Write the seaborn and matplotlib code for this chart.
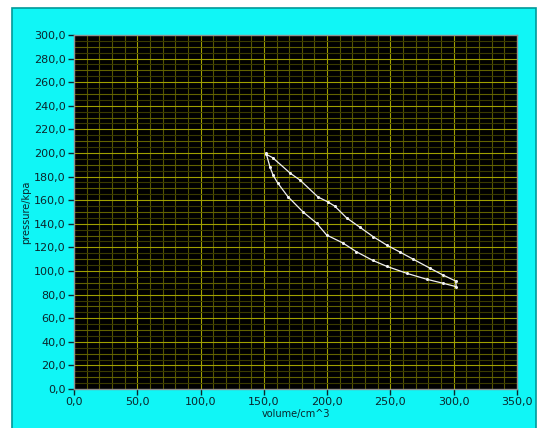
import matplotlib
matplotlib.use("Agg")
import matplotlib.pyplot as plt
import seaborn as sns
import pandas as pd
import numpy as np
from matplotlib.patches import Rectangle
from matplotlib.ticker import FuncFormatter, MultipleLocator

# loop: lower branch (expansion) then upper branch back
volume = [151.7, 154.9, 157.4, 161.0, 169.0, 181.0, 191.7, 199.6, 212.5, 223.0,
          236.0, 247.0, 263.0, 278.7, 291.6, 302.0,
          301.5, 291.5, 281.0, 268.0, 257.6, 247.0, 236.5, 226.0, 215.4, 206.0,
          200.7, 192.8, 178.6, 170.7, 157.0, 151.7]
pressure = [200.0, 188.0, 181.0, 174.5, 163.0, 150.0, 140.5, 130.5, 123.7, 116.4,
            109.0, 104.0, 98.0, 93.0, 89.6, 86.7,
            91.5, 96.6, 102.5, 110.0, 116.0, 122.0, 129.0, 137.0, 145.0, 155.0,
            158.5, 162.7, 177.0, 183.0, 196.0, 199.0]

df = pd.DataFrame({"volume": volume, "pressure": pressure})

sns.set_style("dark")
plt.rcParams["font.family"] = ["DejaVu Sans"]

fig = plt.figure(figsize=(5.38, 4.28), dpi=100)
fig.patch.set_facecolor("white")

# cyan panel behind the graph
bg = fig.add_axes([0, 0, 1, 1], zorder=-1)
bg.set_xlim(0, 538)
bg.set_ylim(0, 428)
bg.axis("off")
bg.add_patch(Rectangle((12, -2), 524, 422, facecolor="#10f6f6",
                       edgecolor="#009a9a", linewidth=1.2))

ax = fig.add_axes([74 / 538, 39 / 428, 443 / 538, 354 / 428], zorder=1)
ax.set_facecolor("black")

ax.set_xlim(0, 350)
ax.set_ylim(0, 300)

# grid lines
for v in np.arange(10, 350, 10):
    c = "#a0a000" if v % 50 == 0 else "#555500"
    ax.axvline(v, color=c, lw=0.8, zorder=1)
for p in np.arange(5, 300, 5):
    c = "#a0a000" if p % 20 == 0 else ("#626200" if p % 10 == 0 else "#3a3a00")
    ax.axhline(p, color=c, lw=0.8, zorder=1)

sns.lineplot(data=df, x="volume", y="pressure", sort=False, estimator=None,
             color="#f2f2f2", lw=0.9, marker="o", markersize=2.2,
             markeredgewidth=0, ax=ax, zorder=3)

fmt = FuncFormatter(lambda v, pos: f"{v:.1f}".replace(".", ","))
ax.xaxis.set_major_locator(MultipleLocator(50))
ax.yaxis.set_major_locator(MultipleLocator(20))
ax.xaxis.set_major_formatter(fmt)
ax.yaxis.set_major_formatter(fmt)
ax.tick_params(axis="both", which="major", labelsize=8, labelcolor="#0a262c",
               color="#0a262c", length=4, width=1, direction="out",
               bottom=True, left=True, pad=2)
ax.grid(False)
for s in ax.spines.values():
    s.set_color("#909090")
    s.set_linewidth(1)

ax.set_xlabel("volume/cm^3", fontsize=7, color="#0a262c", labelpad=1)
ax.set_ylabel("pressure/kpa", fontsize=7, color="#0a262c", labelpad=2)

fig.savefig("out.png", dpi=100, facecolor=fig.get_facecolor())
